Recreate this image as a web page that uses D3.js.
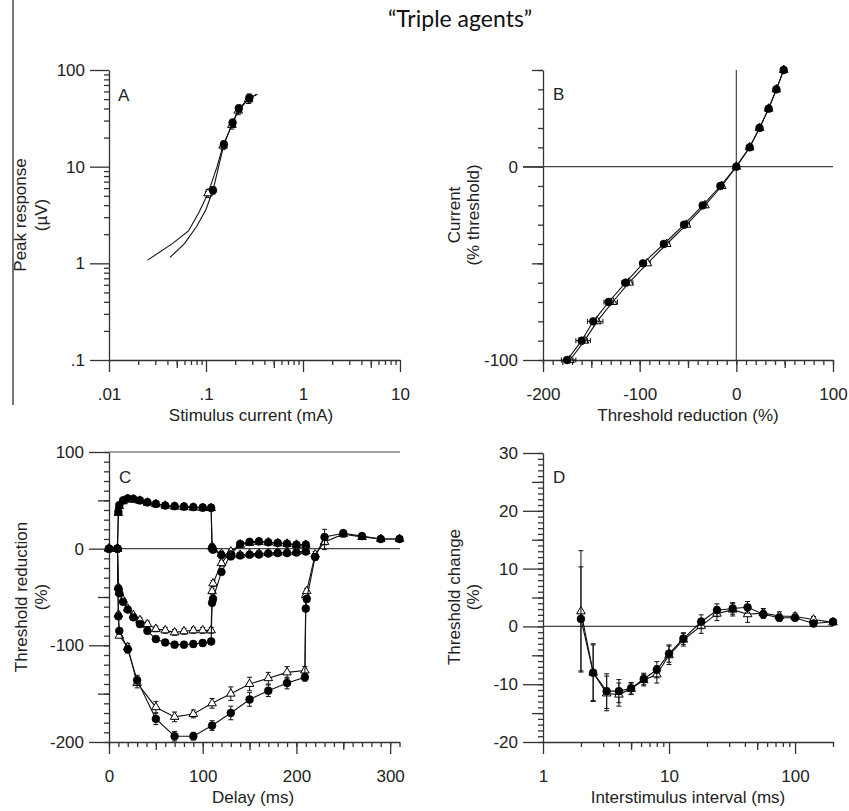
<!DOCTYPE html>
<html>
<head>
<meta charset="utf-8">
<script src="https://cdn.jsdelivr.net/npm/d3@7"></script>
<style>
  body { margin: 0; background: #fff; }
  svg { display: block; font-family: "Liberation Sans", Arial, sans-serif; }
  .axis path, .axis line { stroke: #333; stroke-width: 1.3; fill: none; }
  .axis text { font-size: 17px; fill: #222; font-family: "Liberation Sans", Arial, sans-serif; }
  .ref { stroke: #444; stroke-width: 1.2; }
  .lbl { font-size: 17px; fill: #222; }
</style>
</head>
<body>
<svg id="chart" width="849" height="811"></svg>
<script>
// ---- A: stimulus-response (current mA, peak uV) ----
var aOpenCurve = [[0.025, 1.08], [0.045, 1.6], [0.066, 2.16], [0.085, 3.4], [0.105, 5.3], [0.13, 10], [0.15, 16.5], [0.185, 27], [0.215, 38], [0.275, 50], [0.33, 56]];
var aFilledCurve = [[0.0425, 1.15], [0.06, 1.6], [0.08, 2.4], [0.1, 3.6], [0.118, 5.7], [0.135, 10], [0.153, 17], [0.188, 28.5], [0.218, 40], [0.28, 51.5], [0.34, 56]];
// [x, y, xErr, yErr]
var aOpenPts = [[0.105, 5.3, 0.006, 0.5], [0.15, 16.5, 0.008, 1.5], [0.185, 27, 0.01, 2.5], [0.215, 38, 0.01, 3.5], [0.275, 50, 0.015, 5]];
var aFilledPts = [[0.118, 5.7, 0.006, 0.5], [0.153, 17, 0.008, 1.5], [0.188, 28.5, 0.01, 2.5], [0.218, 40, 0.01, 3.5], [0.28, 51.5, 0.015, 5]];

// ---- B: current-threshold ----
var bCurrent = [50, 40, 30, 20, 10, 0, -10, -20, -30, -40, -50, -60, -70, -80, -90, -100];
var bFilledRed = [49, 41.4, 33.4, 24, 13.8, 0, -16.5, -34.8, -54, -75, -96.5, -114.5, -132, -148, -160, -175];
var bOpenRed = [49, 41.4, 33.4, 24, 13.8, 0, -15, -32.5, -51.5, -72, -92, -111, -128, -144, -157, -172];
var bRedErr = [1, 1, 1, 1, 1, 0, 2, 2, 3, 3, 3, 4, 5, 6, 6, 6];

// ---- C: threshold electrotonus ----
var cDelay100 = [0, 9, 10, 11, 15, 20, 26, 33, 41, 50, 60, 70, 80, 90, 100, 109, 110, 111, 120, 130, 140, 150, 160, 170, 180, 190, 200, 210];
var cDepFilled = [0, 0, 38, 45, 50, 52, 51.5, 50, 48, 46.4, 44.6, 44, 43.6, 43, 42.6, 42.3, 1, -1, -6.5, -8, -7, -6.2, -6, -5, -4.5, -4.5, -4, -3];
var cDepOpen = [0, 0, 37, 44, 49, 51, 51, 49.5, 47.5, 46, 44.5, 43.5, 43, 42.5, 42, 42, 2, 0, -5.5, -7, -6.5, -5.5, -5, -4.5, -4, -4, -3.5, -2.5];
var cHypFilled = [0, 0, -41, -46, -55, -63, -71, -78, -85, -93.5, -97, -99.3, -99.3, -98.6, -97.6, -96, -56, -52, -24, -6, 5, 7, 7.6, 6.6, 6, 5.2, 4.1, 4.1];
var cHypOpen = [0, 0, -40, -45, -53, -62, -69, -74, -78, -83, -84.5, -86.6, -85.5, -84.5, -84.5, -84.5, -44, -36, -15, -3, 4, 6, 7, 6.5, 5.5, 5, 4, 4];
var cErr100 = [0, 0, 2, 2, 2, 2, 2, 3, 3, 3, 3, 3, 3, 3, 3, 3, 3, 3, 3, 2, 2, 2, 3, 2, 2, 2, 2, 2];
var cDelay200 = [0, 9, 10, 11, 20, 30, 50, 70, 90, 110, 130, 150, 170, 190, 209, 210, 211, 220, 230, 250, 270, 290, 310];
var cHyp2Filled = [0, 0, -70, -85, -104, -136, -176, -194, -194, -183, -170, -156, -147, -139, -133, -62, -52, -8.6, 12, 16, 13, 10, 10];
var cHyp2Open = [0, 0, -68, -90, -102, -139, -164, -174, -171, -160, -150, -140, -134, -128, -126, -48, -44, -6, 7, 15, 12, 10, 10];
var cErr200 = [0, 0, 2, 2, 4, 5, 6, 5, 4, 5, 7, 7, 6, 6, 4, 3, 3, 3, 8, 3, 2, 1, 1];

// ---- D: recovery cycle ----
var dInterval = [2, 2.5, 3.2, 4, 5, 6.3, 8, 10, 13, 18, 24, 32, 42, 56, 75, 100, 140, 200];
var dFilled = [1.3, -8, -11.2, -11.2, -10.7, -9.1, -7.5, -4.7, -2.1, 0.8, 2.8, 3.1, 3.3, 2.1, 1.5, 1.5, 0.5, 0.8];
var dOpen = [2.6, -8, -11.6, -11.8, -10.8, -9.3, -8.3, -5, -2.3, 0.1, 2.2, 2.9, 2.1, 2.3, 1.8, 1.7, 1.2, 0.7];
var dFilledErr = [9, 4.8, 3, 2, 1, 1, 1.4, 1.5, 1, 1.2, 1.1, 1, 1, 0.7, 0.6, 0.5, 0.4, 0.3];
var dOpenErr = [10.5, 5, 3, 2, 1, 1, 1.5, 1.6, 1.1, 1.3, 1.2, 1.1, 1.4, 0.8, 0.7, 0.6, 0.5, 0.3];

var svg = d3.select("#chart");

function range(a, b, step) { return d3.range(a, b + step / 2, step); }
function logMinor(lo, hi) {
    var out = [];
    for (var d = lo; d < hi; d *= 10)
        for (var k = 2; k <= 9; k++) if (d * k <= hi) out.push(d * k);
    return out;
}
var plain = function(d) { return String(d); };   // hyphen minus, like the original

// axis helper: major/medium/minor tick sets on the same scale
function drawAxis(g, scale, side, pos, major, fmt, medium, minor, size) {
    var make = side === "left" ? d3.axisLeft : d3.axisBottom;
    var tr = side === "left" ? "translate(" + pos + ",0)" : "translate(0," + pos + ")";
    var pad = side === "left" ? 5 : 16;
    var ax = g.append("g").attr("class", "axis").attr("transform", tr)
        .call(make(scale).tickValues(major).tickSize(size).tickSizeOuter(0)
              .tickPadding(pad).tickFormat(fmt));
    [[medium, side === "left" ? 11 : 8], [minor, 5]].forEach(function(t) {
        if (!t[0].length) return;
        g.append("g").attr("class", "axis").attr("transform", tr)
            .call(make(scale).tickValues(t[0]).tickSize(t[1]).tickFormat(""))
            .select(".domain").remove();
    });
    return ax;
}

function drawSeries(g, x, y, pts, filled, opts) {
    opts = opts || {};
    var line = d3.line().x(function(d) { return x(d.x); }).y(function(d) { return y(d.y); });
    g.append("path").datum(opts.curve || pts).attr("d", line)
        .attr("fill", "none").attr("stroke", "#111").attr("stroke-width", 1.1);
    var cap = 2.5;
    var eb = g.append("g").attr("stroke", "#111").attr("stroke-width", 1);
    pts.forEach(function(d) {
        if (d.ye) {
            var y0 = y(d.y - d.ye), y1 = y(d.y + d.ye), xx = x(d.x);
            eb.append("line").attr("x1", xx).attr("x2", xx).attr("y1", y0).attr("y2", y1);
            eb.append("line").attr("x1", xx - cap).attr("x2", xx + cap).attr("y1", y0).attr("y2", y0);
            eb.append("line").attr("x1", xx - cap).attr("x2", xx + cap).attr("y1", y1).attr("y2", y1);
        }
        if (d.xe) {
            var x0 = x(d.x - d.xe), x1 = x(d.x + d.xe), yy = y(d.y);
            eb.append("line").attr("x1", x0).attr("x2", x1).attr("y1", yy).attr("y2", yy);
            eb.append("line").attr("x1", x0).attr("x2", x0).attr("y1", yy - cap).attr("y2", yy + cap);
            eb.append("line").attr("x1", x1).attr("x2", x1).attr("y1", yy - cap).attr("y2", yy + cap);
        }
    });
    var sym = filled ? d3.symbol(d3.symbolCircle, 48) : d3.symbol(d3.symbolTriangle, 32);
    g.append("g").selectAll("path").data(pts).join("path")
        .attr("d", sym)
        .attr("transform", function(d) { return "translate(" + x(d.x) + "," + y(d.y) + ")"; })
        .attr("fill", filled ? "#000" : "#fff")
        .attr("stroke", "#000").attr("stroke-width", filled ? 0.6 : 1);
}

function pairs(xs, ys, errs, xErrs) {
    return xs.map(function(v, i) {
        return { x: v, y: ys[i], ye: errs ? errs[i] : 0, xe: xErrs ? xErrs[i] : 0 };
    });
}
function hLine(g, x0, x1, yy) {
    g.append("line").attr("class", "ref").attr("x1", x0).attr("x2", x1).attr("y1", yy).attr("y2", yy);
}

// title and left rule
svg.append("text").attr("x", 460).attr("y", 27).attr("text-anchor", "middle")
    .style("font-family", "Lato, 'Open Sans', sans-serif").style("font-size", "23px").attr("fill", "#111")
    .text("\u201cTriple agents\u201d");
svg.append("line").attr("x1", 13).attr("x2", 13).attr("y1", 0).attr("y2", 405)
    .attr("stroke", "#777").attr("stroke-width", 2);

function yLabel(cx, cy, gap, lines) {
    lines.forEach(function(t, i) {
        svg.append("text").attr("class", "lbl").attr("text-anchor", "middle")
            .attr("transform", "translate(" + (cx + i * gap) + "," + cy + ") rotate(-90)")
            .text(t);
    });
}
function xLabel(cx, cy, t) {
    svg.append("text").attr("class", "lbl").attr("text-anchor", "middle")
        .attr("x", cx).attr("y", cy).text(t);
}
function letter(x, y, t) {
    svg.append("text").attr("class", "lbl").attr("x", x).attr("y", y).text(t);
}

// ---------- Panel A ----------
(function() {
    var x = d3.scaleLog().domain([0.01, 10]).range([109, 400]);
    var y = d3.scaleLog().domain([0.1, 100]).range([360, 70]);
    var g = svg.append("g");
    var fmt = function(d) { return d < 1 ? String(d).replace(/^0/, "") : String(d); };
    drawAxis(g, x, "bottom", 360, [0.01, 0.1, 1, 10], fmt, [0.05, 0.5, 5], logMinor(0.01, 10), 12);
    drawAxis(g, y, "left", 109, [0.1, 1, 10, 100], fmt, [], logMinor(0.1, 100), 19);
    var toPts = function(arr) { return arr.map(function(d) { return { x: d[0], y: d[1], xe: d[2], ye: d[3] }; }); };
    var toCurve = function(arr) { return arr.map(function(d) { return { x: d[0], y: d[1] }; }); };
    drawSeries(g, x, y, toPts(aOpenPts), false, { curve: toCurve(aOpenCurve) });
    drawSeries(g, x, y, toPts(aFilledPts), true, { curve: toCurve(aFilledCurve) });
    letter(118, 101, "A");
    xLabel(251, 421, "Stimulus current (mA)");
    yLabel(26, 215, 21, ["Peak response", "(\u00b5V)"]);
})();

// ---------- Panel B ----------
(function() {
    var x = d3.scaleLinear().domain([-200, 100]).range([543, 833]);
    var y = d3.scaleLinear().domain([-100, 50]).range([360, 70]);
    var g = svg.append("g");
    drawAxis(g, x, "bottom", 360, [-200, -100, 0, 100], plain, [-150, -50, 50], range(-200, 100, 10), 12);
    drawAxis(g, y, "left", 543, [-100, 0], plain, [50, -50], range(-100, 50, 10), 20);
    hLine(g, 523, 833, y(0));
    g.append("line").attr("class", "ref").attr("x1", x(0)).attr("x2", x(0)).attr("y1", y(50)).attr("y2", y(-100));
    drawSeries(g, x, y, pairs(bOpenRed, bCurrent, null, bRedErr), false);
    drawSeries(g, x, y, pairs(bFilledRed, bCurrent, null, bRedErr), true);
    letter(553, 100, "B");
    xLabel(688, 421, "Threshold reduction (%)");
    yLabel(460, 215, 19, ["Current", "(% threshold)"]);
})();

// ---------- Panel C ----------
(function() {
    var x = d3.scaleLinear().domain([0, 310]).range([109, 399.5]);
    var y = d3.scaleLinear().domain([-200, 100]).range([742, 452]);
    var g = svg.append("g");
    drawAxis(g, x, "bottom", 742, [0, 100, 200, 300], plain, [50, 150, 250], range(0, 310, 10), 12);
    drawAxis(g, y, "left", 109, [-200, -100, 0, 100], plain, [-150, -50, 50], range(-200, 100, 10), 20);
    hLine(g, 109, 400, y(0));
    hLine(g, 109, 400, y(100));
    drawSeries(g, x, y, pairs(cDelay200, cHyp2Open, cErr200), false);
    drawSeries(g, x, y, pairs(cDelay200, cHyp2Filled, cErr200), true);
    drawSeries(g, x, y, pairs(cDelay100, cHypOpen, cErr100), false);
    drawSeries(g, x, y, pairs(cDelay100, cHypFilled, cErr100), true);
    drawSeries(g, x, y, pairs(cDelay100, cDepOpen, cErr100), false);
    drawSeries(g, x, y, pairs(cDelay100, cDepFilled, cErr100), true);
    letter(119, 483, "C");
    xLabel(253, 803, "Delay (ms)");
    yLabel(27, 597, 20, ["Threshold reduction", "(%)"]);
})();

// ---------- Panel D ----------
(function() {
    var x = d3.scaleLog().domain([1, 200]).range([543, 833]);
    var y = d3.scaleLinear().domain([-20, 30]).range([742, 453]);
    var g = svg.append("g");
    drawAxis(g, x, "bottom", 742, [1, 10, 100], plain, [5, 50], logMinor(1, 200), 12);
    drawAxis(g, y, "left", 543, range(-20, 30, 10), plain, range(-15, 25, 10), range(-20, 30, 1), 20);
    hLine(g, 543, 833, y(0));
    drawSeries(g, x, y, pairs(dInterval, dOpen, dOpenErr), false);
    drawSeries(g, x, y, pairs(dInterval, dFilled, dFilledErr), true);
    letter(553, 483, "D");
    xLabel(688, 803, "Interstimulus interval (ms)");
    yLabel(460, 597, 19, ["Threshold change", "(%)"]);
})();
</script>
</body>
</html>
